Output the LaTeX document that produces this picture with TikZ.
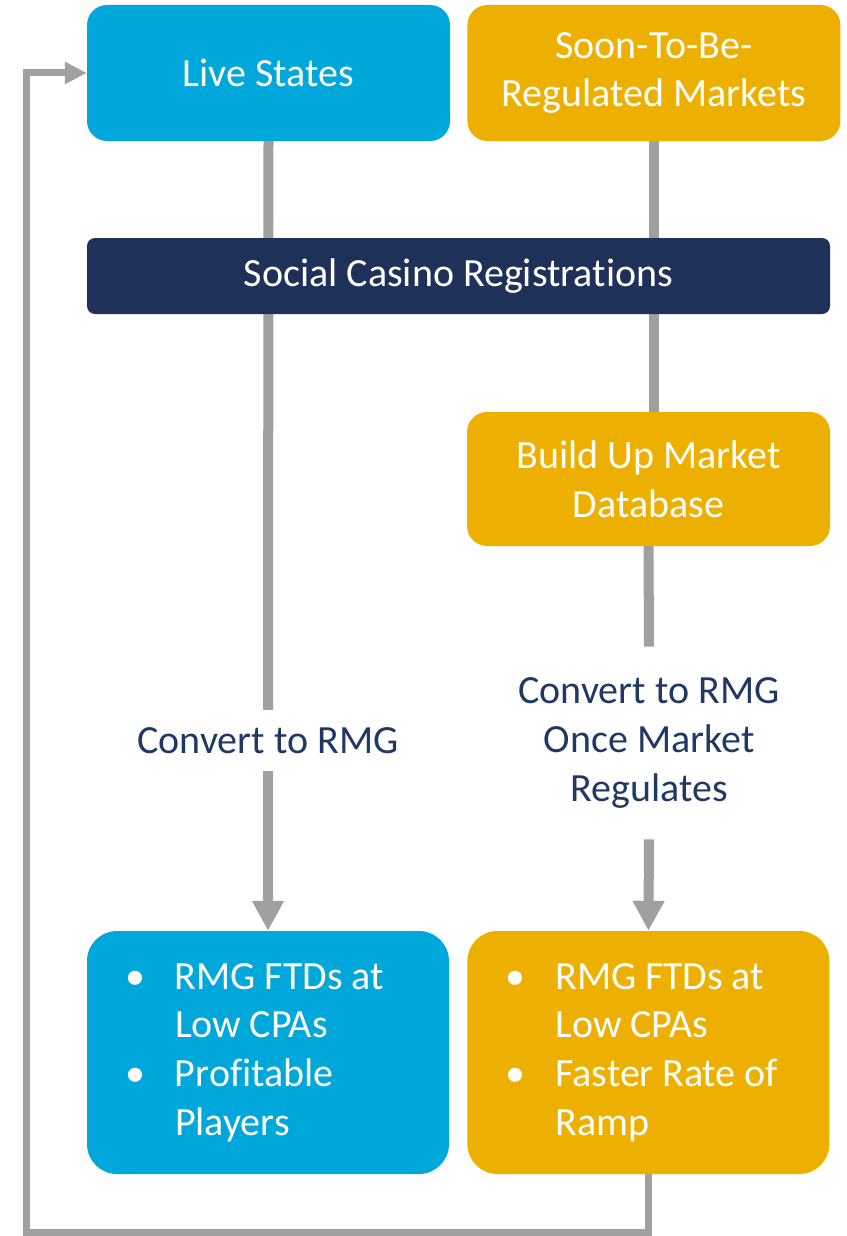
\documentclass[tikz,border=0pt]{standalone}
\usepackage{fontspec}
\setmainfont{Carlito}[Ligatures=NoCommon]
\definecolor{csBlue}{HTML}{00A7DB}
\definecolor{csGold}{HTML}{EEB000}
\definecolor{csNavy}{HTML}{203159}
\definecolor{csInk}{HTML}{203864}
\definecolor{csGray}{HTML}{A0A0A0}
\usepackage{tikz}
\usetikzlibrary{arrows.meta, positioning, backgrounds}

\begin{document}
\begin{tikzpicture}[x=1pt, y=-1pt,
  every node/.style={font=\fontsize{40pt}{48.8pt}\selectfont},
  stepbox/.style={rounded corners=20pt, inner sep=0pt, align=center,
    text=white, minimum height=136pt},
  resultbox/.style={rounded corners=30pt, inner xsep=38pt, inner ysep=0pt,
    text=white, text width=286pt, minimum height=243pt,
    execute at begin node={\spaceskip=8.5pt\relax}},
  flowlabel/.style={text=csInk, align=center, inner xsep=0pt},
  flow/.style={draw=csGray, line width=10pt},
  arr/.style={flow, -{Triangle[length=30pt, width=30pt]}},
  backarr/.style={draw=csGray, line width=7pt, -{Triangle[length=22pt, width=21pt]}}]

  \useasboundingbox (0,0) rectangle (846,1236);

  % sources
  \node[stepbox, fill=csBlue, minimum width=363pt] (live) at (268.5,73) {Live States};
  \node[stepbox, fill=csGold, minimum width=373pt, right=17pt of live] (soon) {Soon-To-Be-\\Regulated Markets};
  \node[stepbox, fill=csNavy, minimum width=743pt, minimum height=76pt, rounded corners=8pt] (reg) at (458.5,276) {Social Casino Registrations};
  \node[stepbox, fill=csGold, minimum width=363pt, minimum height=134pt] (build) at (648.5,479) {Build Up Market\\Database};

  % conversion steps
  \node[flowlabel, inner ysep=17pt, anchor=base] (conv1) at (268,753) {Convert to RMG};
  \node[flowlabel, inner ysep=31pt] (conv2) at (649,743) {Convert to RMG\\Once Market\\Regulates};

  % outcomes
  \node[resultbox, fill=csBlue] (outL) at (268,1052.5) {\begin{tabular}{@{}p{50pt}@{}l@{}}
      \textbullet & RMG FTDs at\\ & Low CPAs\\ \textbullet & Profitable\\ & Players\end{tabular}};
  \node[resultbox, fill=csGold, right=18pt of outL] (outR) {\begin{tabular}{@{}p{50pt}@{}l@{}}
      \textbullet & RMG FTDs at\\ & Low CPAs\\ \textbullet & Faster Rate of\\ & Ramp\end{tabular}};

  \coordinate (corner) at (26,1232);

  \begin{scope}[on background layer]
    \draw[flow] (live.south) -- (conv1.north);
    \draw[flow] (soon.south) -- (soon.south |- build.north);
    \draw[flow] (build.south) -- (conv2.north);
    \draw[arr] (conv1.south) -- (outL.north);
    \draw[arr] (conv2.south) -- (outR.north);
    \draw[backarr] (outR.south) |- (corner) |- (live.west);
  \end{scope}
\end{tikzpicture}
\end{document}
